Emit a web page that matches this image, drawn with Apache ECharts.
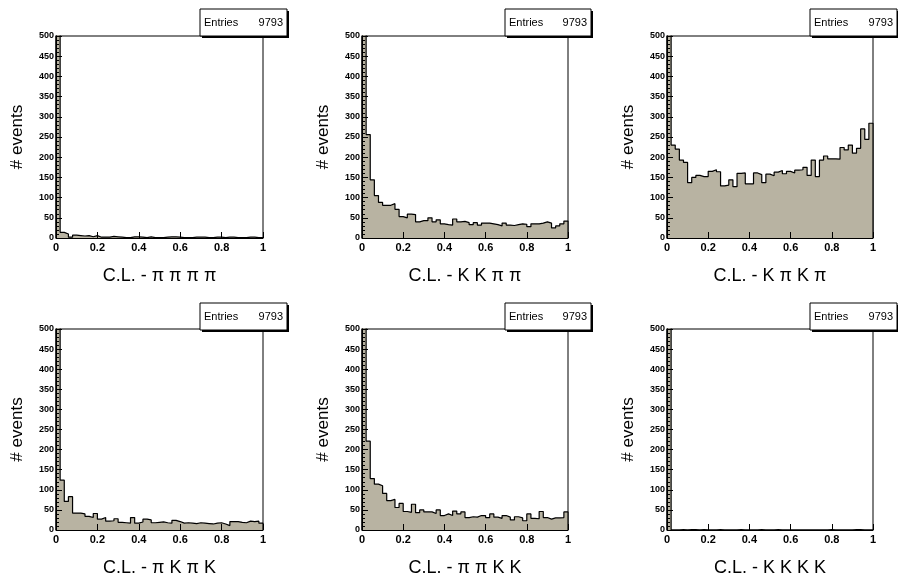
<!DOCTYPE html>
<html>
<head>
<meta charset="utf-8">
<script src="https://cdn.jsdelivr.net/npm/echarts@6/dist/echarts.min.js"></script>
<style>
  html, body { margin: 0; padding: 0; background: #fff; }
  #chart { width: 898px; height: 586px; }
</style>
</head>
<body>
<div id="chart"></div>
<script>
// 50 bins of width 0.02 between 0 and 1; the first bin runs off the top (> 500)
const binWidth = 0.02;
const entries = 9793;

const titles = ['C.L. - π π π π', 'C.L. - K K π π', 'C.L. - K π K π',
                'C.L. - π K π K', 'C.L. - π π K K', 'C.L. - K K K K'];

const clPiPiPiPi = [9600, 14, 10, 2, 7, 6, 5, 6, 3, 6, 2, 2, 2, 4, 3, 2, 1, 1, 3, 3,
  2, 1, 3, 1, 1, 1, 2, 3, 3, 2, 1, 1, 1, 2, 2, 2, 1, 1, 2, 2, 1, 2, 2, 1, 1, 1, 2, 2, 1, 1];
const clKKPiPi = [2100, 256, 144, 105, 88, 81, 81, 85, 71, 53, 50, 59, 58, 40, 43, 43, 50, 40, 45, 35,
  33, 32, 47, 40, 41, 38, 33, 38, 32, 37, 37, 35, 33, 30, 37, 32, 31, 33, 35, 34,
  28, 35, 35, 37, 40, 37, 25, 30, 35, 42];
const clKPiKPi = [1300, 230, 220, 193, 187, 137, 150, 155, 152, 152, 165, 169, 164, 129, 131, 144, 127, 160, 161, 134,
  134, 161, 157, 137, 158, 154, 163, 167, 159, 165, 161, 168, 169, 175, 155, 193, 152, 193, 203, 196,
  196, 195, 224, 218, 230, 210, 222, 270, 244, 284];
const clPiKPiK = [1500, 124, 71, 83, 42, 42, 40, 34, 31, 41, 27, 31, 22, 23, 28, 19, 18, 17, 31, 17,
  20, 27, 25, 18, 19, 20, 18, 17, 24, 21, 17, 18, 17, 16, 18, 17, 16, 15, 17, 18,
  15, 11, 21, 21, 19, 18, 22, 21, 22, 17];
const clPiPiKK = [2000, 221, 128, 114, 110, 91, 73, 76, 56, 66, 46, 44, 64, 43, 50, 45, 45, 41, 50, 36,
  40, 36, 47, 40, 45, 31, 33, 32, 36, 36, 31, 40, 32, 29, 36, 32, 25, 33, 30, 23,
  40, 29, 28, 46, 31, 27, 30, 30, 31, 45];
const clKKKK = [9780, 0, 0, 1, 0, 1, 1, 0, 1, 0, 0, 0, 1, 0, 0, 0, 0, 1, 0, 0,
  0, 0, 1, 0, 0, 0, 1, 0, 0, 0, 0, 0, 0, 0, 0, 0, 0, 0, 0, 1,
  0, 0, 0, 0, 0, 1, 1, 0, 0, 0];

const histos = [clPiPiPiPi, clKKPiPi, clKPiKPi, clPiKPiK, clPiPiKK, clKKKK];

// plot frames and stats boxes, in pixels
const frames = [
  { left: 56, top: 36, width: 207, height: 202 },
  { left: 362, top: 36, width: 206, height: 202 },
  { left: 667, top: 36, width: 206, height: 202 },
  { left: 56, top: 329, width: 207, height: 201 },
  { left: 362, top: 329, width: 206, height: 201 },
  { left: 667, top: 329, width: 206, height: 201 }
];
const boxes = [
  { x: 200, y: 9, w: 87, h: 27 },
  { x: 505, y: 9, w: 86, h: 27 },
  { x: 810, y: 9, w: 87, h: 27 },
  { x: 200, y: 303, w: 87, h: 27 },
  { x: 505, y: 303, w: 86, h: 27 },
  { x: 810, y: 303, w: 87, h: 27 }
];

const font = 'Liberation Sans, Arial, sans-serif';
const fill = '#b8b3a2';

function stepPoints(counts) {
  const pts = [[0, 0]];
  counts.forEach((c, i) => pts.push([i * binWidth, c]));
  pts.push([1, counts[counts.length - 1]]);
  pts.push([1, 0]);
  return pts;
}

const myChart = echarts.init(document.getElementById('chart'), null, { renderer: 'canvas' });

const option = {
  animation: false,
  backgroundColor: '#fff',
  grid: frames.map(f => ({
    left: f.left, top: f.top, width: f.width, height: f.height,
    show: true, borderColor: '#000', borderWidth: 1, backgroundColor: 'transparent'
  })),
  xAxis: frames.map((f, i) => ({
    gridIndex: i,
    type: 'value',
    z: 5,
    min: 0, max: 1, interval: 0.2,
    name: titles[i],
    nameLocation: 'middle',
    nameGap: 29,
    nameTextStyle: { fontSize: 18, color: '#000', fontFamily: font },
    axisLine: { show: true, onZero: false, lineStyle: { color: '#000', width: 1 } },
    axisTick: { show: true, inside: true, length: 6, lineStyle: { color: '#000' } },
    axisLabel: { fontSize: 11, fontWeight: 'bold', color: '#000', fontFamily: font, margin: 4 },
    splitLine: { show: false }
  })),
  yAxis: frames.map((f, i) => ({
    gridIndex: i,
    type: 'value',
    z: 5,
    min: 0, max: 500, interval: 50,
    name: '# events',
    nameLocation: 'middle',
    nameGap: 30,
    nameTextStyle: { fontSize: 17, color: '#000', fontFamily: font },
    axisLine: { show: true, onZero: false, lineStyle: { color: '#000', width: 1 } },
    axisTick: { show: true, inside: true, length: 6, lineStyle: { color: '#000' } },
    minorTick: { show: true, splitNumber: 5, length: 3, lineStyle: { color: '#000' } },
    axisLabel: { fontSize: 9, fontWeight: 'bold', color: '#000', fontFamily: font, margin: 2 },
    splitLine: { show: false }
  })),
  series: histos.map((h, i) => ({
    type: 'line',
    xAxisIndex: i,
    yAxisIndex: i,
    z: 2,
    step: 'end',
    symbol: 'none',
    clip: true,
    data: stepPoints(h),
    lineStyle: { color: '#000', width: 1.2 },
    areaStyle: { color: fill, opacity: 1 }
  })),
  graphic: boxes.map(b => ({
    type: 'group',
    z: 10,
    children: [
      { type: 'rect', shape: { x: b.x + 2, y: b.y + 2, width: b.w, height: b.h }, style: { fill: '#000' } },
      { type: 'rect', shape: { x: b.x, y: b.y, width: b.w, height: b.h }, style: { fill: '#fff', stroke: '#000', lineWidth: 1 } },
      { type: 'text', x: b.x + 4, y: b.y + b.h / 2,
        style: { text: 'Entries', fontSize: 11, fontFamily: font, fill: '#000', verticalAlign: 'middle', align: 'left' } },
      { type: 'text', x: b.x + b.w - 4, y: b.y + b.h / 2,
        style: { text: String(entries), fontSize: 11, fontFamily: font, fill: '#000', verticalAlign: 'middle', align: 'right' } }
    ]
  }))
};

myChart.setOption(option);
</script>
</body>
</html>
